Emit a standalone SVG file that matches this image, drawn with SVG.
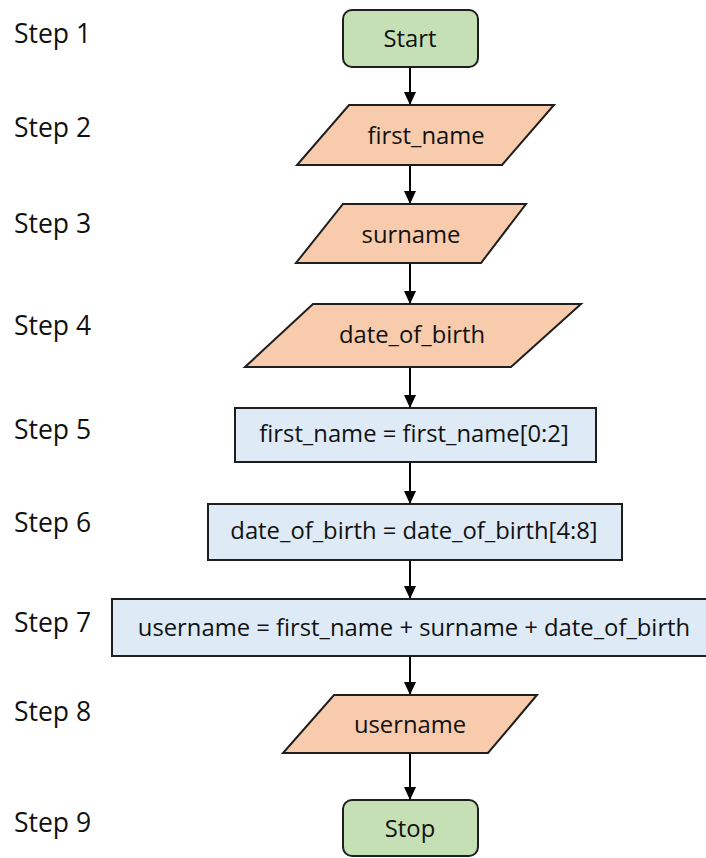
<svg xmlns="http://www.w3.org/2000/svg" width="706" height="858" viewBox="0 0 706 858">
  <style>
    .step { font-family: "Open Sans", "Noto Sans", sans-serif; font-size: 26.5px; fill: #111; }
    .label { font-family: "Open Sans", "Noto Sans", sans-serif; font-size: 23.8px; fill: #111; text-anchor: middle; }
    .terminal { fill: #c5e0b4; stroke: #1e1e1e; stroke-width: 2; }
    .io { fill: #f8cbad; stroke: #1e1e1e; stroke-width: 2; stroke-linejoin: miter; }
    .process { fill: #deebf7; stroke: #1e1e1e; stroke-width: 2; }
    .flow { stroke: #000; stroke-width: 2; fill: none; marker-end: url(#arrow); }
  </style>
  <defs>
    <marker id="arrow" viewBox="0 0 13 12" refX="13" refY="6" markerWidth="13" markerHeight="12" markerUnits="userSpaceOnUse" orient="auto">
      <path d="M0,0 L13,6 L0,12 Z" fill="#000"/>
    </marker>
  </defs>

  <rect width="706" height="858" fill="#fff"/>

  <!-- step numbers down the left side -->
  <g id="steps">
    <text class="step" x="14" y="43">Step 1</text>
    <text class="step" x="14" y="137">Step 2</text>
    <text class="step" x="14" y="233">Step 3</text>
    <text class="step" x="14" y="335">Step 4</text>
    <text class="step" x="14" y="439">Step 5</text>
    <text class="step" x="14" y="532">Step 6</text>
    <text class="step" x="14" y="632">Step 7</text>
    <text class="step" x="14" y="721">Step 8</text>
    <text class="step" x="14" y="832">Step 9</text>
  </g>

  <!-- connectors -->
  <g id="connectors">
    <line class="flow" x1="410" y1="67" x2="410" y2="105"/>
    <line class="flow" x1="410" y1="165" x2="410" y2="204"/>
    <line class="flow" x1="410" y1="263" x2="410" y2="304"/>
    <line class="flow" x1="410" y1="367" x2="410" y2="408"/>
    <line class="flow" x1="410" y1="462" x2="410" y2="504"/>
    <line class="flow" x1="410" y1="560" x2="410" y2="599"/>
    <line class="flow" x1="410" y1="656" x2="410" y2="695"/>
    <line class="flow" x1="410" y1="753" x2="410" y2="800"/>
  </g>

  <g id="start">
    <rect class="terminal" x="343" y="10" width="135" height="57" rx="9"/>
    <text class="label" x="410" y="47">Start</text>
  </g>

  <g id="input-first-name">
    <polygon class="io" points="349,105 554,105 502,165 297,165"/>
    <text class="label" x="426" y="144">first_name</text>
  </g>

  <g id="input-surname">
    <polygon class="io" points="343,204 526,204 481,263 296,263"/>
    <text class="label" x="411" y="243">surname</text>
  </g>

  <g id="input-date-of-birth">
    <polygon class="io" points="313,304 581,304 511,367 245,367"/>
    <text class="label" x="412" y="343">date_of_birth</text>
  </g>

  <g id="slice-first-name">
    <rect class="process" x="235" y="408" width="361" height="54"/>
    <text class="label" x="414" y="442">first_name = first_name[0:2]</text>
  </g>

  <g id="slice-date-of-birth">
    <rect class="process" x="208" y="504" width="414" height="56"/>
    <text class="label" x="414" y="539">date_of_birth = date_of_birth[4:8]</text>
  </g>

  <g id="build-username">
    <rect class="process" x="112" y="599" width="600" height="57"/>
    <text class="label" x="414" y="636">username = first_name + surname + date_of_birth</text>
  </g>

  <g id="output-username">
    <polygon class="io" points="334,695 537,695 488,753 283,753"/>
    <text class="label" x="410" y="733">username</text>
  </g>

  <g id="stop">
    <rect class="terminal" x="343" y="800" width="135" height="56" rx="9"/>
    <text class="label" x="410" y="837">Stop</text>
  </g>
</svg>
